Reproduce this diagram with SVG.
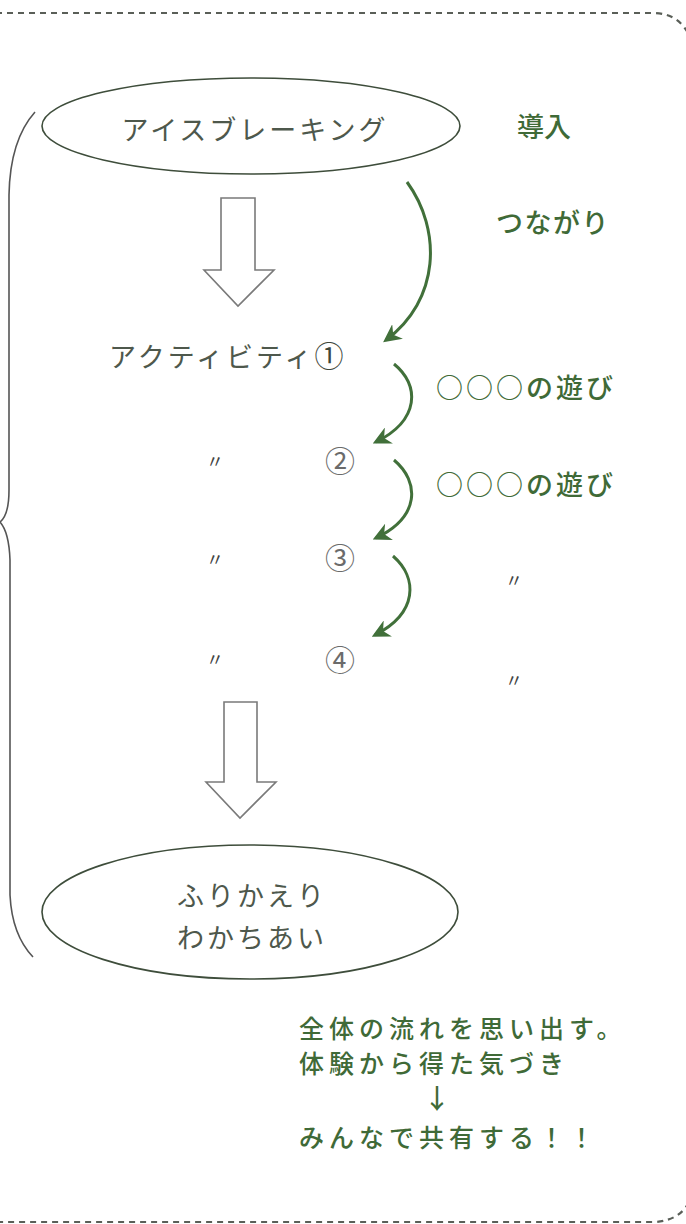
<svg xmlns="http://www.w3.org/2000/svg" width="686" height="1224" viewBox="0 0 686 1224">
<defs>
<style>
.jp{font-family:"Noto Sans CJK JP","Noto Sans CJK SC",sans-serif;}
.gray{fill:#4e584c;font-size:27px;letter-spacing:3px;}
.green{fill:#3f6a37;font-size:27px;font-weight:500;}
.note{font-size:25px;letter-spacing:5px;}
.ell{fill:none;stroke:#3e4d3b;stroke-width:1.6;}
.hol{fill:#fff;stroke:#7a7a7a;stroke-width:1.6;stroke-linejoin:miter;}
.conn{fill:none;stroke:#41703a;stroke-width:3;}
.mark{fill:#444;font-size:18px;}
.num{fill:#6b6b6b;font-size:30px;}
</style>
<marker id="ah" viewBox="0 0 10 10" refX="8" refY="5" markerWidth="6" markerHeight="6" markerUnits="strokeWidth" orient="auto">
<path d="M0,0 L10,5 L0,10 L3,5 Z" fill="#41703a"/>
</marker>
</defs>
<rect width="686" height="1224" fill="#fff"/>
<path d="M -4 13 H 655 Q 682 14 692 42 V 1195 Q 684 1220 655 1222 H -4" fill="none" stroke="#5a5f58" stroke-width="2.2" stroke-dasharray="6 5"/>
<path d="M 35 112 Q 10 140 9 195 V 490 Q 9 515 0 522 Q 9 532 10 560 V 895 Q 12 935 33 957" fill="none" stroke="#555" stroke-width="1.6"/>
<g id="n-icebreak">
<ellipse class="ell" cx="251" cy="126" rx="209" ry="48"/>
<text class="jp gray" x="255" y="140" text-anchor="middle">アイスブレーキング</text>
</g>
<g id="arrow1">
<polygon class="hol" points="221,198 255,198 255,270 274,270 238,306 204,270 221,270"/>
</g>
<g id="n-act1">
<text class="jp gray" x="109" y="367" letter-spacing="4">アクティビティ<tspan fill="#3e473c" font-size="29" letter-spacing="0">①</tspan></text>
</g>
<g id="n-act2">
<text class="jp mark" x="206" y="468">〃</text>
<text class="jp num" x="325" y="472">②</text>
</g>
<g id="n-act3">
<text class="jp mark" x="206" y="566">〃</text>
<text class="jp num" x="325" y="569" fill="#555">③</text>
</g>
<g id="n-act4">
<text class="jp mark" x="206" y="666">〃</text>
<text class="jp num" x="325" y="671" fill="#555">④</text>
</g>
<g id="arrow2">
<polygon class="hol" points="224,702 257,702 257,782 276,782 240,818 206,782 224,782"/>
</g>
<g id="n-reflect">
<ellipse class="ell" cx="250" cy="912" rx="208" ry="67"/>
<text class="jp gray" x="252" y="906" text-anchor="middle" letter-spacing="6">ふりかえり</text>
<text class="jp gray" x="252" y="948" text-anchor="middle" letter-spacing="6">わかちあい</text>
</g>
<g id="labels">
<text class="jp green" x="517" y="137">導入</text>
<text class="jp green" x="496" y="233" letter-spacing="1.5">つながり</text>
<text class="jp green" x="436" y="398" letter-spacing="3">○○○の遊び</text>
<text class="jp green" x="436" y="495" letter-spacing="3">○○○の遊び</text>
<text class="jp mark" x="505" y="587">〃</text>
<text class="jp mark" x="505" y="687">〃</text>
</g>
<g id="n-note">
<text class="jp green note" x="299" y="1038">全体の流れを思い出す。</text>
<text class="jp green note" x="299" y="1073">体験から得た気づき</text>
<text class="jp green" x="437" y="1109" text-anchor="middle" font-size="22">↓</text>
<text class="jp green note" x="299" y="1147">みんなで共有する！！</text>
</g>
<g id="connectors">
<path class="conn" marker-end="url(#ah)" d="M 407 182 C 442 230 440 300 386 340"/>
<path class="conn" marker-end="url(#ah)" d="M 394 364 C 420 385 420 420 376 442"/>
<path class="conn" marker-end="url(#ah)" d="M 394 460 C 420 482 420 517 376 538"/>
<path class="conn" marker-end="url(#ah)" d="M 393 556 C 418 578 418 613 375 635"/>
</g>
</svg>
